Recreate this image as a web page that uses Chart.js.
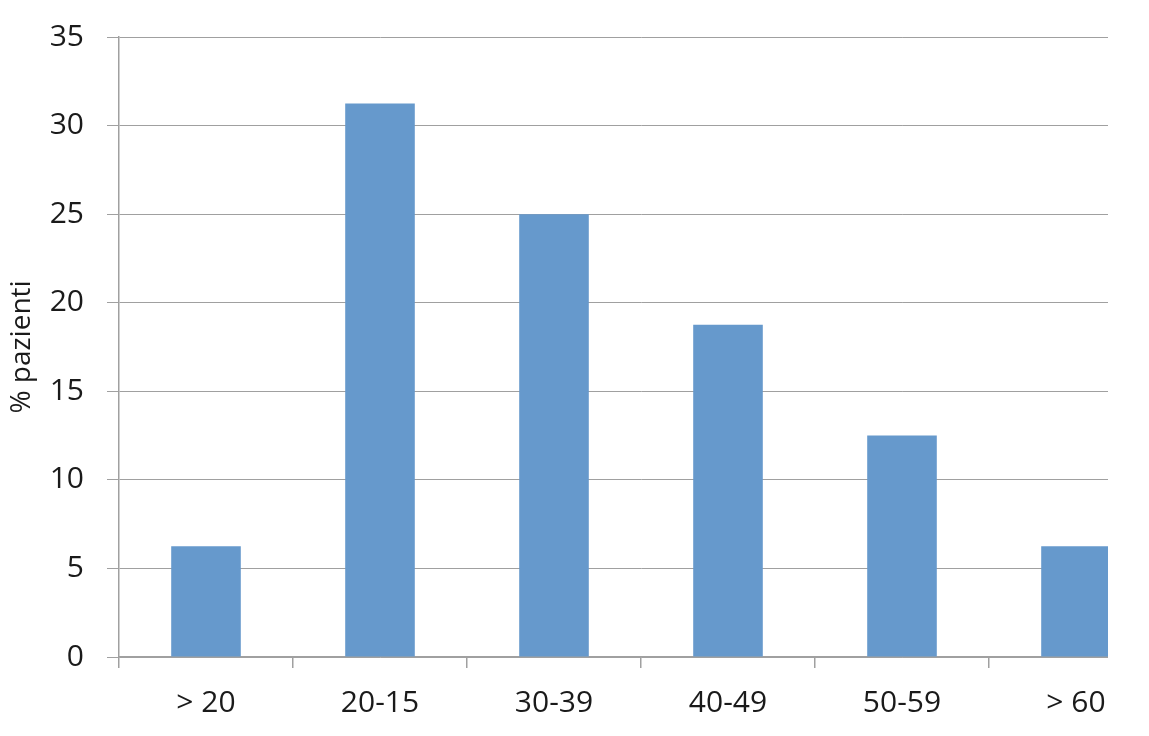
<!DOCTYPE html>
<html>
<head>
<meta charset="utf-8">
<script src="https://cdn.jsdelivr.net/npm/chart.js@4/dist/chart.umd.min.js"></script>
<style>
  html, body { margin: 0; padding: 0; background: #fff; }
  #clip { position: absolute; left: 0; top: 0; width: 1108px; height: 736px; overflow: hidden; }
  #box { position: absolute; left: 0; top: 0; width: 1170px; height: 736px; }
</style>
</head>
<body>
<div id="clip"><div id="box"><canvas id="bars"></canvas></div></div>
<script>
// fasce di eta e percentuale di pazienti
var categories = ["> 20", "20-15", "30-39", "40-49", "50-59", "> 60"];
var percentuali = [6.25, 31.25, 25, 18.75, 12.5, 6.25];
var yTicks = [0, 5, 10, 15, 20, 25, 30, 35];

var gridCol = "#a0a0a0";
var fontFam = "'Open Sans', 'Noto Sans', sans-serif";

Chart.defaults.font.family = fontFam;
Chart.defaults.color = "#1a1a1a";

var ctx = document.getElementById("bars");

new Chart(ctx, {
  type: 'bar',
  data: {
    labels: categories,
    datasets: [{
      label: "% pazienti",
      data: percentuali,
      backgroundColor: "#6699cc",
      borderWidth: 0,
      categoryPercentage: 1.0,
      barPercentage: 0.4
    }]
  },
  options: {
    responsive: true,
    maintainAspectRatio: false,
    animation: false,
    layout: { padding: { left: 0, top: 37, right: 7, bottom: 0 } },
    plugins: {
      legend: { display: false },
      tooltip: { enabled: false }
    },
    scales: {
      x: {
        grid: {
          offset: true,
          drawOnChartArea: false,
          drawTicks: true,
          tickLength: 11,
          color: gridCol,
          lineWidth: 1.5
        },
        border: { color: gridCol, width: 1.5 },
        ticks: {
          padding: 17,
          font: { size: 30 },
          maxRotation: 0
        },
        afterFit: function(scale) { scale.height = 79; }
      },
      y: {
        min: 0,
        max: 35,
        afterBuildTicks: function(scale) {
          scale.ticks = yTicks.map(function(v) { return { value: v }; });
        },
        grid: {
          color: gridCol,
          lineWidth: 1,
          tickLength: 12
        },
        border: { color: gridCol, width: 1.5 },
        ticks: {
          padding: 23,
          font: { size: 30 }
        },
        title: {
          display: true,
          text: "% pazienti",
          font: { size: 28 },
          padding: { top: 5, bottom: 0 }
        },
        afterFit: function(scale) {
          scale.width = 119;
          scale.paddingTop = 0;
          scale.paddingBottom = 0;
        }
      }
    }
  }
});
</script>
</body>
</html>
